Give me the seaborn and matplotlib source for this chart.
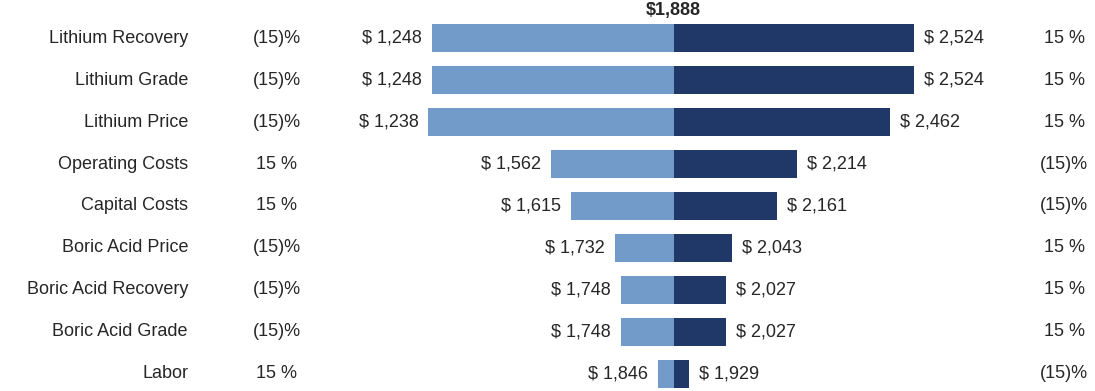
import matplotlib
matplotlib.use('Agg')
import matplotlib.pyplot as plt
import matplotlib.transforms as mtransforms
import seaborn as sns
import pandas as pd

# tornado chart data
base = 1888
factors = ['Lithium Recovery', 'Lithium Grade', 'Lithium Price', 'Operating Costs',
           'Capital Costs', 'Boric Acid Price', 'Boric Acid Recovery',
           'Boric Acid Grade', 'Labor']
low_vals = [1248, 1248, 1238, 1562, 1615, 1732, 1748, 1748, 1846]
high_vals = [2524, 2524, 2462, 2214, 2161, 2043, 2027, 2027, 1929]
low_pct = ['(15)%', '(15)%', '(15)%', '15 %', '15 %', '(15)%', '(15)%', '(15)%', '15 %']
high_pct = ['15 %', '15 %', '15 %', '(15)%', '(15)%', '15 %', '15 %', '15 %', '(15)%']

light = '#729bc9'
dark = '#1f3868'

sns.set_style('white')
plt.rcParams['font.family'] = ['Liberation Sans', 'DejaVu Sans']

df = pd.DataFrame({
    'factor': factors * 2,
    'delta': [v - base for v in low_vals] + [v - base for v in high_vals],
    'side': ['low'] * len(factors) + ['high'] * len(factors),
})

fig = plt.figure(figsize=(10.95, 3.91), dpi=100)
ax = fig.add_axes([0, 0, 1, 1])
sns.barplot(data=df, x='delta', y='factor', hue='side', hue_order=['low', 'high'],
            palette=[light, dark], dodge=False, width=0.667, legend=False,
            orient='h', ax=ax, saturation=1, linewidth=0)

px = 0.3777  # pixels per unit
ax.set_xlim(-673.7 / px, (1095 - 673.7) / px)
ax.set_ylim(8.405, -0.905)
ax.axis('off')

fs = 13
fmt = lambda v: '$ {:,}'.format(v)
for i, f in enumerate(factors):
    d_lo = low_vals[i] - base
    d_hi = high_vals[i] - base
    ax.annotate(fmt(low_vals[i]), (d_lo, i), xytext=(-7, 0), textcoords='offset points',
                ha='right', va='center', fontsize=fs)
    ax.annotate(fmt(high_vals[i]), (d_hi, i), xytext=(7, 0), textcoords='offset points',
                ha='left', va='center', fontsize=fs)

trans = mtransforms.blended_transform_factory(fig.transFigure, ax.transData)
for i, f in enumerate(factors):
    ax.text(188 / 1095, i, f, transform=trans, ha='right', va='center', fontsize=fs)
    ax.text(277 / 1095, i, low_pct[i], transform=trans, ha='center', va='center', fontsize=fs)
    ax.text(1064 / 1095, i, high_pct[i], transform=trans, ha='center', va='center', fontsize=fs)

ax.text(0, 1 - 11 / 391, '${:,}'.format(base), transform=mtransforms.blended_transform_factory(ax.transData, fig.transFigure),
        ha='center', va='center', fontsize=fs, fontweight='bold')

fig.savefig('out.png', dpi=100)
